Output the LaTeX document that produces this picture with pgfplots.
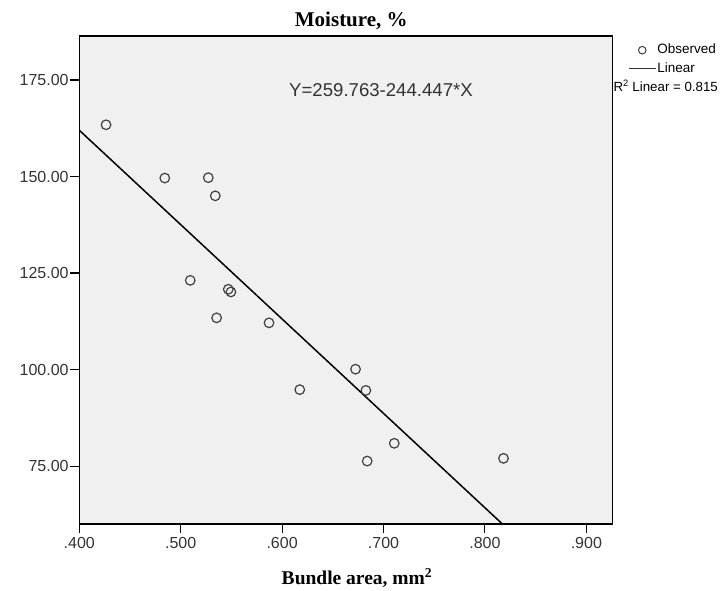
\documentclass[border=0pt]{standalone}
\usepackage{pgfplots}
\pgfplotsset{compat=1.18}
\usepackage{fontspec}
\setmainfont{Liberation Serif}
\setsansfont{Liberation Sans}
\definecolor{bgc}{HTML}{F0F0F0}
\definecolor{mk}{HTML}{404040}
\begin{document}
\begin{tikzpicture}[x=1bp,y=1bp]
\useasboundingbox (-79.3,-67) rectangle (642.7,524);
\begin{axis}[
  at={(0,0)}, anchor=south west,
  scale only axis, width=533.4bp, height=488bp,
  xmin=0.4, xmax=0.926, ymin=60, ymax=186.4,
  axis background/.style={fill=bgc},
  axis line style={black, line width=1.1bp},
  tick align=outside, xtick pos=bottom, ytick pos=left,
  major tick length=9.5bp,
  tick style={black, line width=1.1bp},
  xtick={0.4,0.5,0.6,0.7,0.8,0.9},
  xticklabels={.400,.500,.600,.700,.800,.900},
  ytick={75,100,125,150,175},
  yticklabels={75.00,100.00,125.00,150.00,175.00},
  ticklabel style={font=\sffamily\fontsize{16bp}{18bp}\selectfont, text=black!80},
  yticklabel style={inner sep=1bp},
  xticklabel style={inner sep=1bp, yshift=-3bp},
  legend style={at={(1.0287,0.9867)}, anchor=north west, draw=none, fill=none,
    inner sep=0pt, font=\sffamily\fontsize{13.5bp}{14bp}\selectfont,
    nodes={inner sep=1bp, text height=10bp, text depth=3bp},
    row sep=3.5bp, column sep=0pt},
  legend cell align=left,
]
\addplot[only marks, mark=o, mark size=4.8bp, mk, line width=1.2bp,
  legend image code/.code={\draw[mark=o, mark size=3.8bp, mk, line width=1bp] plot coordinates {(13.5bp,0bp)};}]
coordinates {
(0.4264,163.4)
(0.4843,149.6)
(0.5272,149.7)
(0.5341,145.0)
(0.5094,123.1)
(0.5469,120.8)
(0.5495,120.1)
(0.5354,113.4)
(0.5871,112.1)
(0.6174,94.8)
(0.6724,100.1)
(0.6826,94.6)
(0.6839,76.3)
(0.7106,80.9)
(0.8183,77.0)
};
\addlegendentry{Observed}
\addplot[black, line width=1.5bp,
  legend image code/.code={\draw[black!80, line width=1.1bp] (0bp,0bp) -- (27bp,0bp);}]
coordinates {(0.4,161.984) (0.85,51.982)};
\addlegendentry{Linear}
\end{axis}
\node[anchor=base, font=\bfseries\fontsize{21bp}{22bp}\selectfont] at (272,497.3) {Moisture, \%};
\node[anchor=base, font=\bfseries\fontsize{19.5bp}{20bp}\selectfont] at (277.7,-61) {Bundle area, mm\textsuperscript{2}};
\node[anchor=base, font=\sffamily\fontsize{18.6bp}{19bp}\selectfont, text=black!80, inner sep=0pt] at (301.7,427.3) {Y=259.763-244.447*X};
\node[anchor=west, font=\sffamily\fontsize{13.3bp}{14bp}\selectfont, inner sep=0pt] at (534,438.3) {R\textsuperscript{2} Linear = 0.815};
\end{tikzpicture}
\end{document}
